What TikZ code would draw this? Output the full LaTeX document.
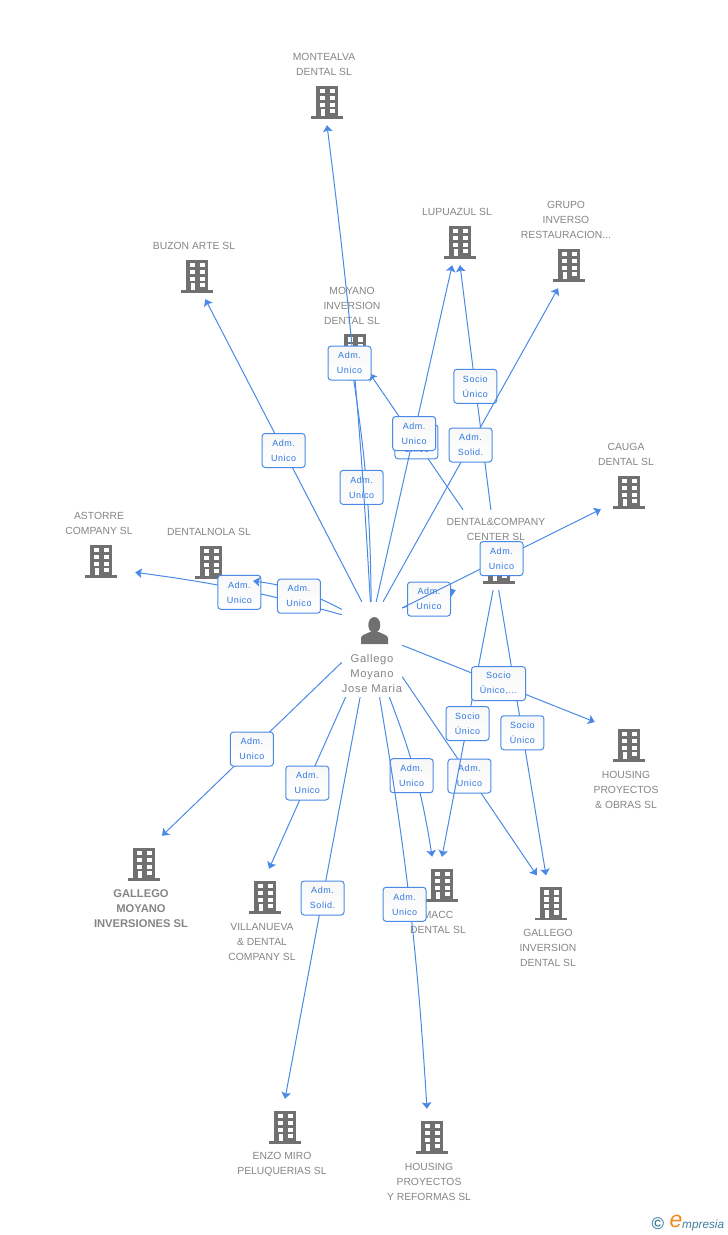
\documentclass[tikz,border=0pt]{standalone}
\usepackage{fontspec}
\setmainfont{Liberation Sans}
\newfontfamily\relfont[LetterSpace=6]{Liberation Sans}
\usetikzlibrary{arrows.meta}
\definecolor{bgray}{HTML}{707070}
\definecolor{tgray}{HTML}{858585}
\definecolor{bred}{HTML}{FF5A2B}
\definecolor{lblue}{HTML}{4A8AE6}
\definecolor{rblue}{HTML}{2F78E0}
\definecolor{logoblue}{HTML}{3F7F9F}
\definecolor{logoorange}{HTML}{F08A1D}
\tikzset{
    bnode/.style={minimum width=68pt,minimum height=51pt,inner sep=0pt},
    lbl/.style={text=tgray,align=center,inner sep=0pt,font=\fontsize{10.35}{15}\selectfont},
    link/.style={draw=lblue,line width=1pt,-{Stealth[length=6.5pt,width=9.5pt,inset=1.2pt]}},
    rel/.style={draw=lblue,line width=1pt,rounded corners=3pt,top color=black!3,bottom color=white,
        minimum width=43pt,minimum height=34pt,inner sep=0pt,text=rblue,align=center,
        font=\relfont\fontsize{9}{15}\selectfont},
    pics/bldg/.style={code={
        \fill[bgray,pic actions] (-11,-14) rectangle (11,16.5);
        \fill[bgray,pic actions] (-16,16.5) rectangle (16,19);
        \foreach \y in {-10.7,-3.7,3,9.3} {
            \fill[white] (2.5,\y) rectangle (7.5,\y+4.4);
        }
        \foreach \y in {-10.7,-3.7,3} {
            \fill[white] (-7.5,\y) rectangle (-2.5,\y+4.4);
        }
        \fill[white] (-6.5,9.3) rectangle (-2.5,16.5);
    }}
}
\begin{document}
\begin{tikzpicture}[x=1pt,y=-1pt]
    \useasboundingbox (0,0) rectangle (728,1235);

    \node[bnode] (mont) at (327,99.5) {};
    \pic at (mont) {bldg};
    \node[lbl] (montt) at (324,64) {MONTEALVA\\DENTAL SL};
    \node[bnode] (buzon) at (197,273.5) {};
    \pic at (buzon) {bldg};
    \node[lbl] (buzont) at (194,245.5) {BUZON ARTE SL};
    \node[bnode] (lupu) at (460,239.5) {};
    \pic at (lupu) {bldg};
    \node[lbl] (luput) at (457,211.5) {LUPUAZUL SL};
    \node[bnode] (grupo) at (569,262.5) {};
    \pic at (grupo) {bldg};
    \node[lbl] (grupot) at (566,219.5) {GRUPO\\INVERSO\\RESTAURACION...};
    \node[bnode] (moyano) at (355,348) {};
    \pic at (moyano) {bldg};
    \node[lbl] (moyanot) at (352,305.5) {MOYANO\\INVERSION\\DENTAL SL};
    \node[bnode,minimum width=56pt] (cauga) at (629,489.5) {};
    \pic at (cauga) {bldg};
    \node[lbl] (caugat) at (626,454) {CAUGA\\DENTAL SL};
    \node[bnode] (astorre) at (101,558.5) {};
    \pic at (astorre) {bldg};
    \node[lbl] (astorret) at (99,523) {ASTORRE\\COMPANY SL};
    \node[bnode,minimum width=84pt] (nola) at (211,559.5) {};
    \pic at (nola) {bldg};
    \node[lbl] (nolat) at (209,531.5) {DENTALNOLA SL};
    \node[bnode,minimum width=84pt,minimum height=80pt] (dental) at (498,550) {};
    \pic at (499,564.5) {bldg};
    \node[lbl] (dentalt) at (496,529) {DENTAL\&COMPANY\\CENTER SL};
    \node[bnode] (hobras) at (629,742.5) {};
    \pic at (hobras) {bldg};
    \node[lbl] (hobrast) at (626,789.5) {HOUSING\\PROYECTOS\\\& OBRAS SL};
    \node[bnode] (gmi) at (144,861.5) {};
    \pic[fill=bred] at (gmi) {bldg};
    \node[lbl,font=\bfseries\fontsize{11.2}{15}\selectfont] (gmit) at (141,908.5) {GALLEGO\\MOYANO\\INVERSIONES SL};
    \node[bnode] (villa) at (265,894.5) {};
    \pic at (villa) {bldg};
    \node[lbl] (villat) at (262,941.5) {VILLANUEVA\\\& DENTAL\\COMPANY SL};
    \node[bnode] (macc) at (442,882.5) {};
    \pic at (macc) {bldg};
    \node[lbl] (macct) at (438,922) {MACC\\DENTAL SL};
    \node[bnode] (ginv) at (551,901) {};
    \pic at (ginv) {bldg};
    \node[lbl] (ginvt) at (548,947.5) {GALLEGO\\INVERSION\\DENTAL SL};
    \node[bnode] (enzo) at (285,1124.5) {};
    \pic at (enzo) {bldg};
    \node[lbl] (enzot) at (282,1164) {ENZO MIRO\\PELUQUERIAS SL};
    \node[bnode] (hrefo) at (432,1134.5) {};
    \pic at (hrefo) {bldg};
    \node[lbl] (hrefot) at (429,1181.5) {HOUSING\\PROYECTOS\\Y REFORMAS SL};

    \node[minimum width=60pt,minimum height=95pt,inner sep=0pt] (p) at (372,649.5) {};
    \fill[bgray] (374.3,625) ellipse (6 and 8);
    \fill[bgray] (361,644) -- (361,638) .. controls (361,635) and (366,634) .. (370,632) -- (379,632)
        .. controls (382,634) and (388,635) .. (388,638) -- (388,644) -- cycle;
    \node[lbl,font=\relfont\fontsize{11.2}{15}\selectfont] (pt) at (372,673) {Gallego\\Moyano\\Jose Maria};

    \draw[link] (p.102) to node[rel] (r1) {Adm.\\Unico} (buzon.-72);
    \draw[link] (p.131) to[bend right=4] node[rel,yshift=-3pt] (r2) {Adm.\\Unico} (astorre.-22);
    \draw[link] (p.127) to[bend right=10] node[rel,yshift=-5.5pt] (r3) {Adm.\\Unico} (nola.-27);
    \draw[link] (p.91) to[bend right=4] node[rel,xshift=-5pt] (r4) {Adm.\\Unico} (moyano.-95);
    \draw[link] (dental.131) to node[rel] (r5) {Adm.\\Unico} (moyano.-60);
    \draw[link] (p.85) to node[rel] (r6) {Adm.\\Unico} (lupu.-107);
    \draw[link] (dental.100) to node[rel,pos=0.505] (r7) {Socio\\Único} (lupu.south);
    \draw[link] (p.77) to node[rel] (r8) {Adm.\\Solid.} (grupo.-113);
    \draw[link] (p.54) to node[rel] (r9) {Adm.\\Unico} (dental.south west);
    \draw[link] (p.54) to node[rel] (r10) {Adm.\\Unico} (cauga.-145);
    \draw[link] (p.-42.5) to node[rel] (r11) {Adm.\\Unico} (ginv.119);
    \draw[link] (dental.-97) to node[rel] (r12) {Socio\\Único} (macc.north);
    \draw[link] (dental.-89) to node[rel] (r13) {Socio\\Único} (ginv.101);
    \draw[link] (p.8.5) to node[rel,minimum width=54pt] (r14) {Socio\\Único,...} (hobras.149);
    \draw[link] (p.-157.4) to node[rel] (r15) {Adm.\\Unico} (gmi.55);
    \draw[link] (p.-119.6) to node[rel] (r16) {Adm.\\Unico} (villa.81);
    \draw[link] (p.-104.2) to node[rel] (r17) {Adm.\\Solid.} (enzo.north);
    \draw[link] (p.-70.3) to[bend left=6] node[rel,xshift=-4pt] (r18) {Adm.\\Unico} (macc.111);
    \draw[link] (p.-81.6) to[bend left=3] node[rel,xshift=-5pt,yshift=-2pt] (r19) {Adm.\\Unico} (hrefo.101);
    \draw[link] (p.92.4) to[bend right=2] node[rel,xshift=-4pt] (r20) {Adm.\\Unico} (mont.south);

    \node[text=logoblue,inner sep=0pt,font=\bfseries\fontsize{17}{17}\selectfont] (copy) at (658,1224) {©};
    \node[text=logoorange,inner sep=0pt,font=\itshape\fontsize{23}{23}\selectfont] (loge) at (676,1221) {e};
    \node[text=logoblue,inner sep=0pt,anchor=west,font=\itshape\fontsize{11.8}{11.8}\selectfont] (logt) at (682,1225) {mpresia};
\end{tikzpicture}
\end{document}
